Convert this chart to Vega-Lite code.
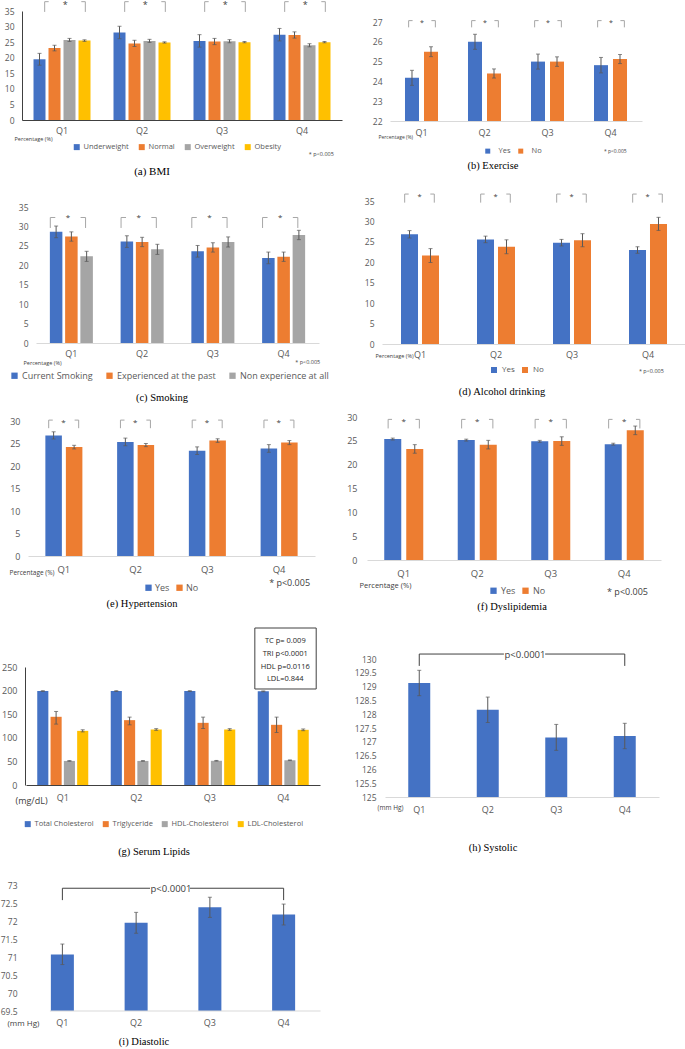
{
  "$schema": "https://vega.github.io/schema/vega-lite/v6.json",
  "padding": 0,
  "columns": 2,
  "spacing": {"row": 70, "column": 23},
  "bounds": "flush",
  "align": "each",
  "resolve": {"scale": {"x": "independent", "y": "independent", "color": "independent", "xOffset": "independent"}, "legend": {"color": "independent"}},
  "config": {
    "view": {"stroke": null},
    "font": "Open Sans",
    "axis": {"grid": false, "ticks": false, "tickSize": 0, "labelOverlap": false, "labelColor": "#595959", "labelFont": "Open Sans", "domainColor": "#d9d9d9", "titleColor": "#404040", "titleFont": "Open Sans", "titleFontWeight": "normal", "labelFontSize": 8.5},
    "axisX": {"labelAngle": 0, "titleAlign": "left", "titleBaseline": "middle"},
    "axisY": {"title": null, "domain": false, "labelOverlap": false, "tickCount": 20},
    "legend": {"labelFont": "Open Sans", "labelColor": "#595959", "symbolType": "square", "symbolStrokeWidth": 0, "orient": "none", "direction": "horizontal"},
    "title": {"font": "Liberation Serif", "fontWeight": "normal", "color": "#000000", "fontSize": 10.5, "orient": "bottom", "frame": "group", "anchor": "middle"},
    "text": {"font": "Open Sans"}
  },
  "datasets": {
    "quarters": [{"q": "Q1"}, {"q": "Q2"}, {"q": "Q3"}, {"q": "Q4"}],
    "bmi": [
      {"q": "Q1", "s": "Underweight", "v": 19.5, "lo": 17.6, "hi": 21.4},
      {"q": "Q1", "s": "Normal", "v": 23.1, "lo": 22.2, "hi": 24.0},
      {"q": "Q1", "s": "Overweight", "v": 25.7, "lo": 25.2, "hi": 26.2},
      {"q": "Q1", "s": "Obesity", "v": 25.5, "lo": 25.25, "hi": 25.75},
      {"q": "Q2", "s": "Underweight", "v": 28.1, "lo": 26.1, "hi": 30.1},
      {"q": "Q2", "s": "Normal", "v": 24.6, "lo": 23.6, "hi": 25.6},
      {"q": "Q2", "s": "Overweight", "v": 25.4, "lo": 24.9, "hi": 25.9},
      {"q": "Q2", "s": "Obesity", "v": 24.9, "lo": 24.7, "hi": 25.1},
      {"q": "Q3", "s": "Underweight", "v": 25.4, "lo": 23.4, "hi": 27.4},
      {"q": "Q3", "s": "Normal", "v": 25.2, "lo": 24.2, "hi": 26.2},
      {"q": "Q3", "s": "Overweight", "v": 25.3, "lo": 24.8, "hi": 25.8},
      {"q": "Q3", "s": "Obesity", "v": 25.0, "lo": 24.8, "hi": 25.2},
      {"q": "Q4", "s": "Underweight", "v": 27.4, "lo": 25.4, "hi": 29.4},
      {"q": "Q4", "s": "Normal", "v": 27.3, "lo": 26.3, "hi": 28.3},
      {"q": "Q4", "s": "Overweight", "v": 24.0, "lo": 23.5, "hi": 24.5},
      {"q": "Q4", "s": "Obesity", "v": 25.0, "lo": 24.8, "hi": 25.2}
    ],
    "exercise": [
      {"q": "Q1", "s": "Yes", "v": 24.18, "lo": 23.8, "hi": 24.56},
      {"q": "Q1", "s": "No", "v": 25.5, "lo": 25.25, "hi": 25.75},
      {"q": "Q2", "s": "Yes", "v": 26.0, "lo": 25.62, "hi": 26.38},
      {"q": "Q2", "s": "No", "v": 24.4, "lo": 24.17, "hi": 24.63},
      {"q": "Q3", "s": "Yes", "v": 25.0, "lo": 24.62, "hi": 25.38},
      {"q": "Q3", "s": "No", "v": 25.0, "lo": 24.76, "hi": 25.24},
      {"q": "Q4", "s": "Yes", "v": 24.82, "lo": 24.43, "hi": 25.21},
      {"q": "Q4", "s": "No", "v": 25.13, "lo": 24.9, "hi": 25.36}
    ],
    "smoking": [
      {"q": "Q1", "s": "Current Smoking", "v": 28.6, "lo": 27.1, "hi": 30.1},
      {"q": "Q1", "s": "Experienced at the past", "v": 27.4, "lo": 26.2, "hi": 28.6},
      {"q": "Q1", "s": "Non experience at all", "v": 22.3, "lo": 21.0, "hi": 23.6},
      {"q": "Q2", "s": "Current Smoking", "v": 26.1, "lo": 24.6, "hi": 27.6},
      {"q": "Q2", "s": "Experienced at the past", "v": 26.0, "lo": 24.8, "hi": 27.2},
      {"q": "Q2", "s": "Non experience at all", "v": 24.1, "lo": 22.8, "hi": 25.4},
      {"q": "Q3", "s": "Current Smoking", "v": 23.6, "lo": 22.1, "hi": 25.1},
      {"q": "Q3", "s": "Experienced at the past", "v": 24.6, "lo": 23.4, "hi": 25.8},
      {"q": "Q3", "s": "Non experience at all", "v": 26.0, "lo": 24.7, "hi": 27.3},
      {"q": "Q4", "s": "Current Smoking", "v": 21.9, "lo": 20.4, "hi": 23.4},
      {"q": "Q4", "s": "Experienced at the past", "v": 22.2, "lo": 21.0, "hi": 23.4},
      {"q": "Q4", "s": "Non experience at all", "v": 27.8, "lo": 26.6, "hi": 29.0}
    ],
    "alcohol": [
      {"q": "Q1", "s": "Yes", "v": 26.85, "lo": 25.95, "hi": 27.75},
      {"q": "Q1", "s": "No", "v": 21.65, "lo": 19.95, "hi": 23.35},
      {"q": "Q2", "s": "Yes", "v": 25.6, "lo": 24.8, "hi": 26.4},
      {"q": "Q2", "s": "No", "v": 23.8, "lo": 22.1, "hi": 25.5},
      {"q": "Q3", "s": "Yes", "v": 24.8, "lo": 24.0, "hi": 25.6},
      {"q": "Q3", "s": "No", "v": 25.4, "lo": 23.8, "hi": 27.0},
      {"q": "Q4", "s": "Yes", "v": 23.0, "lo": 22.2, "hi": 23.8},
      {"q": "Q4", "s": "No", "v": 29.4, "lo": 27.8, "hi": 31.0}
    ],
    "hypertension": [
      {"q": "Q1", "s": "Yes", "v": 26.8, "lo": 26.0, "hi": 27.6},
      {"q": "Q1", "s": "No", "v": 24.2, "lo": 23.8, "hi": 24.6},
      {"q": "Q2", "s": "Yes", "v": 25.35, "lo": 24.5, "hi": 26.2},
      {"q": "Q2", "s": "No", "v": 24.65, "lo": 24.3, "hi": 25.0},
      {"q": "Q3", "s": "Yes", "v": 23.4, "lo": 22.55, "hi": 24.25},
      {"q": "Q3", "s": "No", "v": 25.65, "lo": 25.25, "hi": 26.05},
      {"q": "Q4", "s": "Yes", "v": 23.9, "lo": 23.05, "hi": 24.75},
      {"q": "Q4", "s": "No", "v": 25.2, "lo": 24.75, "hi": 25.65}
    ],
    "dyslipidemia": [
      {"q": "Q1", "s": "Yes", "v": 25.37, "lo": 25.17, "hi": 25.57},
      {"q": "Q1", "s": "No", "v": 23.3, "lo": 22.4, "hi": 24.2},
      {"q": "Q2", "s": "Yes", "v": 25.15, "lo": 24.95, "hi": 25.35},
      {"q": "Q2", "s": "No", "v": 24.2, "lo": 23.3, "hi": 25.1},
      {"q": "Q3", "s": "Yes", "v": 24.9, "lo": 24.7, "hi": 25.1},
      {"q": "Q3", "s": "No", "v": 24.95, "lo": 24.05, "hi": 25.85},
      {"q": "Q4", "s": "Yes", "v": 24.3, "lo": 24.1, "hi": 24.5},
      {"q": "Q4", "s": "No", "v": 27.2, "lo": 26.3, "hi": 28.1}
    ],
    "lipids": [
      {"q": "Q1", "s": "Total Cholesterol", "v": 199, "lo": 198.2, "hi": 199.8},
      {"q": "Q1", "s": "Triglyceride", "v": 144.5, "lo": 129, "hi": 155.8},
      {"q": "Q1", "s": "HDL-Cholesterol", "v": 51, "lo": 50.3, "hi": 51.7},
      {"q": "Q1", "s": "LDL-Cholesterol", "v": 114.7, "lo": 112.5, "hi": 117},
      {"q": "Q2", "s": "Total Cholesterol", "v": 199, "lo": 198.2, "hi": 199.8},
      {"q": "Q2", "s": "Triglyceride", "v": 137.4, "lo": 127.5, "hi": 143.8},
      {"q": "Q2", "s": "HDL-Cholesterol", "v": 51, "lo": 50.3, "hi": 51.7},
      {"q": "Q2", "s": "LDL-Cholesterol", "v": 117.6, "lo": 115.8, "hi": 119.4},
      {"q": "Q3", "s": "Total Cholesterol", "v": 199, "lo": 198.2, "hi": 199.8},
      {"q": "Q3", "s": "Triglyceride", "v": 131.7, "lo": 119.7, "hi": 143.8},
      {"q": "Q3", "s": "HDL-Cholesterol", "v": 51.3, "lo": 50.6, "hi": 52},
      {"q": "Q3", "s": "LDL-Cholesterol", "v": 117.6, "lo": 115.8, "hi": 119.4},
      {"q": "Q4", "s": "Total Cholesterol", "v": 198.5, "lo": 197.7, "hi": 199.3},
      {"q": "Q4", "s": "Triglyceride", "v": 127.5, "lo": 111.2, "hi": 143.8},
      {"q": "Q4", "s": "HDL-Cholesterol", "v": 52.4, "lo": 51.7, "hi": 53.1},
      {"q": "Q4", "s": "LDL-Cholesterol", "v": 116.9, "lo": 115.1, "hi": 118.7}
    ],
    "systolic": [
      {"q": "Q1", "v": 129.13, "lo": 128.67, "hi": 129.59},
      {"q": "Q2", "v": 128.16, "lo": 127.7, "hi": 128.62},
      {"q": "Q3", "v": 127.16, "lo": 126.69, "hi": 127.63},
      {"q": "Q4", "v": 127.21, "lo": 126.75, "hi": 127.67}
    ],
    "diastolic": [
      {"q": "Q1", "v": 71.07, "lo": 70.79, "hi": 71.36},
      {"q": "Q2", "v": 71.95, "lo": 71.66, "hi": 72.24},
      {"q": "Q3", "v": 72.38, "lo": 72.1, "hi": 72.66},
      {"q": "Q4", "v": 72.18, "lo": 71.89, "hi": 72.47}
    ]
  },
  "concat": [
    {
      "width": 320, "height": 115,
      "data": {"name": "bmi"},
      "title": {"text": "(a) BMI", "dx": -30, "offset": 9, "fontSize": 11},
      "layer": [
        {"mark": {"type": "bar"},
         "encoding": {
           "x": {"field": "q", "type": "nominal", "scale": {"range": [0, 320], "paddingInner": 0.2875, "paddingOuter": 0.14375},
                 "axis": {"title": "Percentage (%)", "titleX": -8, "titleY": 18, "titleFontSize": 5.5, "labelPadding": 6, "labelFontSize": 9, "domainColor": "#404040"}},
           "xOffset": {"field": "s", "type": "nominal", "sort": ["Underweight", "Normal", "Overweight", "Obesity"], "scale": {"domain": ["Underweight", "Normal", "Overweight", "Obesity"], "paddingInner": 0.2, "paddingOuter": 0}},
           "y": {"field": "v", "type": "quantitative", "scale": {"domain": [0, 35], "range": [115, 6], "nice": false},
                 "axis": {"values": [0, 5, 10, 15, 20, 25, 30, 35], "tickCount": 20, "labelOverlap": false, "labelPadding": 8, "domain": true, "domainColor": "#404040", "format": "d"}},
           "y2": {"datum": 0},
           "color": {"field": "s", "type": "nominal", "scale": {"domain": ["Underweight", "Normal", "Overweight", "Obesity"], "range": ["#4472C4", "#ED7D31", "#A5A5A5", "#FFC000"]},
                     "legend": {"title": null, "legendX": 51, "legendY": 138, "labelFontSize": 7.5, "symbolSize": 36, "labelOffset": 3, "columnPadding": 9}}
         }},
        {"mark": {"type": "rule", "color": "#595959"},
         "encoding": {"x": {"field": "q", "type": "nominal"}, "xOffset": {"field": "s", "type": "nominal", "sort": ["Underweight", "Normal", "Overweight", "Obesity"]}, "y": {"field": "lo", "type": "quantitative"}, "y2": {"field": "hi"}}},
        {"mark": {"type": "tick", "color": "#595959", "size": 4, "thickness": 1, "orient": "horizontal"},
         "encoding": {"x": {"field": "q", "type": "nominal"}, "xOffset": {"field": "s", "type": "nominal", "sort": ["Underweight", "Normal", "Overweight", "Obesity"]}, "y": {"field": "lo", "type": "quantitative"}}},
        {"mark": {"type": "tick", "color": "#595959", "size": 4, "thickness": 1, "orient": "horizontal"},
         "encoding": {"x": {"field": "q", "type": "nominal"}, "xOffset": {"field": "s", "type": "nominal", "sort": ["Underweight", "Normal", "Overweight", "Obesity"]}, "y": {"field": "hi", "type": "quantitative"}}},
        {"data": {"name": "quarters"}, "mark": {"type": "rule", "color": "#A6A6A6"},
         "encoding": {"x": {"field": "q", "type": "nominal", "bandPosition": 0.196}, "y": {"datum": 34.7}, "y2": {"datum": 38.0}}},
        {"data": {"name": "quarters"}, "mark": {"type": "rule", "color": "#A6A6A6"},
         "encoding": {"x": {"field": "q", "type": "nominal", "bandPosition": 0.909}, "y": {"datum": 34.7}, "y2": {"datum": 38.0}}},
        {"data": {"name": "quarters"}, "mark": {"type": "rule", "color": "#A6A6A6"},
         "encoding": {"x": {"field": "q", "type": "nominal", "bandPosition": 0.196}, "x2": {"field": "q", "bandPosition": 0.266}, "y": {"datum": 38.0}}},
        {"data": {"name": "quarters"}, "mark": {"type": "rule", "color": "#A6A6A6"},
         "encoding": {"x": {"field": "q", "type": "nominal", "bandPosition": 0.839}, "x2": {"field": "q", "bandPosition": 0.909}, "y": {"datum": 38.0}}},
        {"data": {"name": "quarters"}, "mark": {"type": "text", "text": "*", "fontSize": 9, "color": "#404040", "align": "center", "baseline": "alphabetic"},
         "encoding": {"x": {"field": "q", "type": "nominal", "bandPosition": 0.558}, "y": {"datum": 36.0}}},
        {"data": {"name": "quarters"}, "transform": [{"filter": "datum.q === 'Q4'"}], "mark": {"type": "text", "text": "* p<0.005", "fontSize": 5.5, "color": "#404040", "align": "left", "baseline": "middle"},
         "encoding": {"x": {"field": "q", "type": "nominal", "bandPosition": 0.62}, "y": {"datum": -10.9}}}
      ]
    },
    {
      "width": 277, "height": 116,
      "data": {"name": "exercise"},
      "title": {"text": "(b) Exercise", "dx": -10.5, "offset": 6},
      "layer": [
        {"mark": {"type": "bar"},
         "encoding": {
           "x": {"field": "q", "type": "nominal", "scale": {"range": [25, 277], "paddingInner": 0.476, "paddingOuter": 0.238},
                 "axis": {"title": "Percentage (%)", "titleX": 13, "titleY": 15, "titleFontSize": 5, "labelPadding": 7, "labelFontSize": 9}},
           "xOffset": {"field": "s", "type": "nominal", "sort": ["Yes", "No"], "scale": {"domain": ["Yes", "No"], "paddingInner": 0.263, "paddingOuter": 0}},
           "y": {"field": "v", "type": "quantitative", "scale": {"domain": [22, 27], "range": [116, 17], "nice": false, "zero": false},
                 "axis": {"values": [22, 23, 24, 25, 26, 27], "tickCount": 20, "labelOverlap": false, "labelPadding": -17, "format": "d"}},
           "y2": {"datum": 22},
           "color": {"field": "s", "type": "nominal", "scale": {"domain": ["Yes", "No"], "range": ["#4472C4", "#ED7D31"]},
                     "legend": {"title": null, "legendX": 119, "legendY": 142, "labelFontSize": 7.5, "symbolSize": 25, "labelOffset": 7, "columnPadding": 6}}
         }},
        {"mark": {"type": "rule", "color": "#595959"},
         "encoding": {"x": {"field": "q", "type": "nominal"}, "xOffset": {"field": "s", "type": "nominal", "sort": ["Yes", "No"]}, "y": {"field": "lo", "type": "quantitative"}, "y2": {"field": "hi"}}},
        {"mark": {"type": "tick", "color": "#595959", "size": 4, "thickness": 1, "orient": "horizontal"},
         "encoding": {"x": {"field": "q", "type": "nominal"}, "xOffset": {"field": "s", "type": "nominal", "sort": ["Yes", "No"]}, "y": {"field": "lo", "type": "quantitative"}}},
        {"mark": {"type": "tick", "color": "#595959", "size": 4, "thickness": 1, "orient": "horizontal"},
         "encoding": {"x": {"field": "q", "type": "nominal"}, "xOffset": {"field": "s", "type": "nominal", "sort": ["Yes", "No"]}, "y": {"field": "hi", "type": "quantitative"}}},
        {"data": {"name": "quarters"}, "mark": {"type": "rule", "color": "#A6A6A6"},
         "encoding": {"x": {"field": "q", "type": "nominal", "bandPosition": 0.11}, "y": {"datum": 26.73}, "y2": {"datum": 27.07}}},
        {"data": {"name": "quarters"}, "mark": {"type": "rule", "color": "#A6A6A6"},
         "encoding": {"x": {"field": "q", "type": "nominal", "bandPosition": 0.92}, "y": {"datum": 26.73}, "y2": {"datum": 27.07}}},
        {"data": {"name": "quarters"}, "mark": {"type": "rule", "color": "#A6A6A6"},
         "encoding": {"x": {"field": "q", "type": "nominal", "bandPosition": 0.11}, "x2": {"field": "q", "bandPosition": 0.23}, "y": {"datum": 27.07}}},
        {"data": {"name": "quarters"}, "mark": {"type": "rule", "color": "#A6A6A6"},
         "encoding": {"x": {"field": "q", "type": "nominal", "bandPosition": 0.8}, "x2": {"field": "q", "bandPosition": 0.92}, "y": {"datum": 27.07}}},
        {"data": {"name": "quarters"}, "mark": {"type": "text", "text": "*", "fontSize": 7, "color": "#404040", "align": "center", "baseline": "alphabetic"},
         "encoding": {"x": {"field": "q", "type": "nominal", "bandPosition": 0.515}, "y": {"datum": 26.86}}},
        {"data": {"name": "quarters"}, "transform": [{"filter": "datum.q === 'Q4'"}], "mark": {"type": "text", "text": "* p<0.005", "fontSize": 5, "color": "#404040", "align": "left", "baseline": "middle"},
         "encoding": {"x": {"field": "q", "type": "nominal", "bandPosition": 0.3}, "y": {"datum": 20.48}}}
      ]
    },
    {
      "width": 298, "height": 152,
      "data": {"name": "smoking"},
      "title": {"text": "(c) Smoking", "dx": -9, "offset": 12},
      "layer": [
        {"mark": {"type": "bar"},
         "encoding": {
           "x": {"field": "q", "type": "nominal", "scale": {"range": [14, 297], "paddingInner": 0.392, "paddingOuter": 0.196},
                 "axis": {"title": "Percentage (%)", "titleX": 1, "titleY": 19, "titleFontSize": 5.5, "labelPadding": 6, "labelFontSize": 9}},
           "xOffset": {"field": "s", "type": "nominal", "sort": ["Current Smoking", "Experienced at the past", "Non experience at all"], "scale": {"domain": ["Current Smoking", "Experienced at the past", "Non experience at all"], "paddingInner": 0.18, "paddingOuter": 0}},
           "y": {"field": "v", "type": "quantitative", "scale": {"domain": [0, 35], "range": [152, 16], "nice": false},
                 "axis": {"values": [0, 5, 10, 15, 20, 25, 30, 35], "tickCount": 20, "labelOverlap": false, "labelPadding": -6, "format": "d"}},
           "y2": {"datum": 0},
           "color": {"field": "s", "type": "nominal", "scale": {"domain": ["Current Smoking", "Experienced at the past", "Non experience at all"], "range": ["#4472C4", "#ED7D31", "#A5A5A5"]},
                     "legend": {"title": null, "legendX": -12, "legendY": 180, "labelFontSize": 9, "symbolSize": 40, "labelOffset": 3, "columnPadding": 12}}
         }},
        {"mark": {"type": "rule", "color": "#595959"},
         "encoding": {"x": {"field": "q", "type": "nominal"}, "xOffset": {"field": "s", "type": "nominal", "sort": ["Current Smoking", "Experienced at the past", "Non experience at all"]}, "y": {"field": "lo", "type": "quantitative"}, "y2": {"field": "hi"}}},
        {"mark": {"type": "tick", "color": "#595959", "size": 4, "thickness": 1, "orient": "horizontal"},
         "encoding": {"x": {"field": "q", "type": "nominal"}, "xOffset": {"field": "s", "type": "nominal", "sort": ["Current Smoking", "Experienced at the past", "Non experience at all"]}, "y": {"field": "lo", "type": "quantitative"}}},
        {"mark": {"type": "tick", "color": "#595959", "size": 4, "thickness": 1, "orient": "horizontal"},
         "encoding": {"x": {"field": "q", "type": "nominal"}, "xOffset": {"field": "s", "type": "nominal", "sort": ["Current Smoking", "Experienced at the past", "Non experience at all"]}, "y": {"field": "hi", "type": "quantitative"}}},
        {"data": {"name": "quarters"}, "mark": {"type": "rule", "color": "#A6A6A6"},
         "encoding": {"x": {"field": "q", "type": "nominal", "bandPosition": 0.01}, "y": {"datum": 29.6}, "y2": {"datum": 32.3}}},
        {"data": {"name": "quarters"}, "mark": {"type": "rule", "color": "#A6A6A6"},
         "encoding": {"x": {"field": "q", "type": "nominal", "bandPosition": 0.83}, "y": {"datum": 29.6}, "y2": {"datum": 32.3}}},
        {"data": {"name": "quarters"}, "mark": {"type": "rule", "color": "#A6A6A6"},
         "encoding": {"x": {"field": "q", "type": "nominal", "bandPosition": 0.01}, "x2": {"field": "q", "bandPosition": 0.126}, "y": {"datum": 32.3}}},
        {"data": {"name": "quarters"}, "mark": {"type": "rule", "color": "#A6A6A6"},
         "encoding": {"x": {"field": "q", "type": "nominal", "bandPosition": 0.714}, "x2": {"field": "q", "bandPosition": 0.83}, "y": {"datum": 32.3}}},
        {"data": {"name": "quarters"}, "mark": {"type": "text", "text": "*", "fontSize": 8, "color": "#404040", "align": "center", "baseline": "alphabetic"},
         "encoding": {"x": {"field": "q", "type": "nominal", "bandPosition": 0.42}, "y": {"datum": 31.65}}},
        {"data": {"name": "quarters"}, "transform": [{"filter": "datum.q === 'Q4'"}], "mark": {"type": "text", "text": "* p<0.005", "fontSize": 5.5, "color": "#404040", "align": "left", "baseline": "middle"},
         "encoding": {"x": {"field": "q", "type": "nominal", "bandPosition": 0.77}, "y": {"datum": -4.9}}}
      ]
    },
    {
      "width": 321, "height": 153,
      "data": {"name": "alcohol"},
      "title": {"text": "(d) Alcohol drinking", "dx": -23.5, "offset": 13},
      "layer": [
        {"mark": {"type": "bar"},
         "encoding": {
           "x": {"field": "q", "type": "nominal", "scale": {"range": [17, 321], "paddingInner": 0.5, "paddingOuter": 0.25},
                 "axis": {"title": "Percentage (%)", "titleX": 10, "titleY": 11, "titleFontSize": 5.5, "labelPadding": 6, "labelFontSize": 9}},
           "xOffset": {"field": "s", "type": "nominal", "sort": ["Yes", "No"], "scale": {"domain": ["Yes", "No"], "paddingInner": 0.19, "paddingOuter": 0}},
           "y": {"field": "v", "type": "quantitative", "scale": {"domain": [0, 35], "range": [153, 10], "nice": false},
                 "axis": {"values": [0, 5, 10, 15, 20, 25, 30, 35], "tickCount": 20, "labelOverlap": false, "labelPadding": -9, "format": "d"}},
           "y2": {"datum": 0},
           "color": {"field": "s", "type": "nominal", "scale": {"domain": ["Yes", "No"], "range": ["#4472C4", "#ED7D31"]},
                     "legend": {"title": null, "legendX": 125, "legendY": 175, "labelFontSize": 8, "symbolSize": 36, "labelOffset": 4, "columnPadding": 6}}
         }},
        {"mark": {"type": "rule", "color": "#595959"},
         "encoding": {"x": {"field": "q", "type": "nominal"}, "xOffset": {"field": "s", "type": "nominal", "sort": ["Yes", "No"]}, "y": {"field": "lo", "type": "quantitative"}, "y2": {"field": "hi"}}},
        {"mark": {"type": "tick", "color": "#595959", "size": 4, "thickness": 1, "orient": "horizontal"},
         "encoding": {"x": {"field": "q", "type": "nominal"}, "xOffset": {"field": "s", "type": "nominal", "sort": ["Yes", "No"]}, "y": {"field": "lo", "type": "quantitative"}}},
        {"mark": {"type": "tick", "color": "#595959", "size": 4, "thickness": 1, "orient": "horizontal"},
         "encoding": {"x": {"field": "q", "type": "nominal"}, "xOffset": {"field": "s", "type": "nominal", "sort": ["Yes", "No"]}, "y": {"field": "hi", "type": "quantitative"}}},
        {"data": {"name": "quarters"}, "mark": {"type": "rule", "color": "#A6A6A6"},
         "encoding": {"x": {"field": "q", "type": "nominal", "bandPosition": 0.097}, "y": {"datum": 34.6}, "y2": {"datum": 36.7}}},
        {"data": {"name": "quarters"}, "mark": {"type": "rule", "color": "#A6A6A6"},
         "encoding": {"x": {"field": "q", "type": "nominal", "bandPosition": 0.876}, "y": {"datum": 34.6}, "y2": {"datum": 36.7}}},
        {"data": {"name": "quarters"}, "mark": {"type": "rule", "color": "#A6A6A6"},
         "encoding": {"x": {"field": "q", "type": "nominal", "bandPosition": 0.097}, "x2": {"field": "q", "bandPosition": 0.202}, "y": {"datum": 36.7}}},
        {"data": {"name": "quarters"}, "mark": {"type": "rule", "color": "#A6A6A6"},
         "encoding": {"x": {"field": "q", "type": "nominal", "bandPosition": 0.771}, "x2": {"field": "q", "bandPosition": 0.876}, "y": {"datum": 36.7}}},
        {"data": {"name": "quarters"}, "mark": {"type": "text", "text": "*", "fontSize": 7.5, "color": "#404040", "align": "center", "baseline": "alphabetic"},
         "encoding": {"x": {"field": "q", "type": "nominal", "bandPosition": 0.49}, "y": {"datum": 35.5}}},
        {"data": {"name": "quarters"}, "transform": [{"filter": "datum.q === 'Q4'"}], "mark": {"type": "text", "text": "* p<0.005", "fontSize": 5.5, "color": "#404040", "align": "left", "baseline": "middle"},
         "encoding": {"x": {"field": "q", "type": "nominal", "bandPosition": 0.26}, "y": {"datum": -6.6}}}
      ]
    },
    {
      "width": 293, "height": 142,
      "data": {"name": "hypertension"},
      "title": {"text": "(e) Hypertension", "dx": -26.5, "offset": 6},
      "layer": [
        {"mark": {"type": "bar"},
         "encoding": {
           "x": {"field": "q", "type": "nominal", "scale": {"range": [6, 293], "paddingInner": 0.484, "paddingOuter": 0.242},
                 "axis": {"title": "Percentage (%)", "titleX": -13, "titleY": 16, "titleFontSize": 6.5, "labelPadding": 8, "labelFontSize": 9.5}},
           "xOffset": {"field": "s", "type": "nominal", "sort": ["Yes", "No"], "scale": {"domain": ["Yes", "No"], "paddingInner": 0.195, "paddingOuter": 0}},
           "y": {"field": "v", "type": "quantitative", "scale": {"domain": [0, 30], "range": [142, 7], "nice": false},
                 "axis": {"values": [0, 5, 10, 15, 20, 25, 30], "tickCount": 20, "labelOverlap": false, "labelPadding": 2, "labelFontSize": 9, "format": "d"}},
           "y2": {"datum": 0},
           "color": {"field": "s", "type": "nominal", "scale": {"domain": ["Yes", "No"], "range": ["#4472C4", "#ED7D31"]},
                     "legend": {"title": null, "legendX": 122, "legendY": 169, "labelFontSize": 9, "symbolSize": 40, "labelOffset": 2, "columnPadding": 5}}
         }},
        {"mark": {"type": "rule", "color": "#595959"},
         "encoding": {"x": {"field": "q", "type": "nominal"}, "xOffset": {"field": "s", "type": "nominal", "sort": ["Yes", "No"]}, "y": {"field": "lo", "type": "quantitative"}, "y2": {"field": "hi"}}},
        {"mark": {"type": "tick", "color": "#595959", "size": 4, "thickness": 1, "orient": "horizontal"},
         "encoding": {"x": {"field": "q", "type": "nominal"}, "xOffset": {"field": "s", "type": "nominal", "sort": ["Yes", "No"]}, "y": {"field": "lo", "type": "quantitative"}}},
        {"mark": {"type": "tick", "color": "#595959", "size": 4, "thickness": 1, "orient": "horizontal"},
         "encoding": {"x": {"field": "q", "type": "nominal"}, "xOffset": {"field": "s", "type": "nominal", "sort": ["Yes", "No"]}, "y": {"field": "hi", "type": "quantitative"}}},
        {"data": {"name": "quarters"}, "mark": {"type": "rule", "color": "#A6A6A6"},
         "encoding": {"x": {"field": "q", "type": "nominal", "bandPosition": 0.09}, "y": {"datum": 28.4}, "y2": {"datum": 30.2}}},
        {"data": {"name": "quarters"}, "mark": {"type": "rule", "color": "#A6A6A6"},
         "encoding": {"x": {"field": "q", "type": "nominal", "bandPosition": 0.9}, "y": {"datum": 28.4}, "y2": {"datum": 30.2}}},
        {"data": {"name": "quarters"}, "mark": {"type": "rule", "color": "#A6A6A6"},
         "encoding": {"x": {"field": "q", "type": "nominal", "bandPosition": 0.09}, "x2": {"field": "q", "bandPosition": 0.2}, "y": {"datum": 30.2}}},
        {"data": {"name": "quarters"}, "mark": {"type": "rule", "color": "#A6A6A6"},
         "encoding": {"x": {"field": "q", "type": "nominal", "bandPosition": 0.79}, "x2": {"field": "q", "bandPosition": 0.9}, "y": {"datum": 30.2}}},
        {"data": {"name": "quarters"}, "mark": {"type": "text", "text": "*", "fontSize": 8, "color": "#404040", "align": "center", "baseline": "alphabetic"},
         "encoding": {"x": {"field": "q", "type": "nominal", "bandPosition": 0.49}, "y": {"datum": 29.2}}},
        {"data": {"name": "quarters"}, "transform": [{"filter": "datum.q === 'Q4'"}], "mark": {"type": "text", "text": "* p<0.005", "fontSize": 9, "color": "#404040", "align": "left", "baseline": "middle"},
         "encoding": {"x": {"field": "q", "type": "nominal", "bandPosition": 0.23}, "y": {"datum": -6.0}}}
      ]
    },
    {
      "width": 296, "height": 146,
      "data": {"name": "dyslipidemia"},
      "title": {"text": "(f) Dyslipidemia", "dx": -1, "offset": 5},
      "layer": [
        {"mark": {"type": "bar"},
         "encoding": {
           "x": {"field": "q", "type": "nominal", "scale": {"range": [2, 296], "paddingInner": 0.469, "paddingOuter": 0.2345},
                 "axis": {"title": "Percentage (%)", "titleX": -6, "titleY": 25, "titleFontSize": 7.5, "labelPadding": 8, "labelFontSize": 9.5}},
           "xOffset": {"field": "s", "type": "nominal", "sort": ["Yes", "No"], "scale": {"domain": ["Yes", "No"], "paddingInner": 0.227, "paddingOuter": 0}},
           "y": {"field": "v", "type": "quantitative", "scale": {"domain": [0, 30], "range": [146, 3], "nice": false},
                 "axis": {"values": [0, 5, 10, 15, 20, 25, 30], "tickCount": 20, "labelOverlap": false, "labelPadding": 8, "labelFontSize": 9, "format": "d"}},
           "y2": {"datum": 0},
           "color": {"field": "s", "type": "nominal", "scale": {"domain": ["Yes", "No"], "range": ["#4472C4", "#ED7D31"]},
                     "legend": {"title": null, "legendX": 124, "legendY": 172, "labelFontSize": 9, "symbolSize": 40, "labelOffset": 3, "columnPadding": 5}}
         }},
        {"mark": {"type": "rule", "color": "#595959"},
         "encoding": {"x": {"field": "q", "type": "nominal"}, "xOffset": {"field": "s", "type": "nominal", "sort": ["Yes", "No"]}, "y": {"field": "lo", "type": "quantitative"}, "y2": {"field": "hi"}}},
        {"mark": {"type": "tick", "color": "#595959", "size": 4, "thickness": 1, "orient": "horizontal"},
         "encoding": {"x": {"field": "q", "type": "nominal"}, "xOffset": {"field": "s", "type": "nominal", "sort": ["Yes", "No"]}, "y": {"field": "lo", "type": "quantitative"}}},
        {"mark": {"type": "tick", "color": "#595959", "size": 4, "thickness": 1, "orient": "horizontal"},
         "encoding": {"x": {"field": "q", "type": "nominal"}, "xOffset": {"field": "s", "type": "nominal", "sort": ["Yes", "No"]}, "y": {"field": "hi", "type": "quantitative"}}},
        {"data": {"name": "quarters"}, "mark": {"type": "rule", "color": "#A6A6A6"},
         "encoding": {"x": {"field": "q", "type": "nominal", "bandPosition": 0.1}, "y": {"datum": 27.6}, "y2": {"datum": 29.5}}},
        {"data": {"name": "quarters"}, "mark": {"type": "rule", "color": "#A6A6A6"},
         "encoding": {"x": {"field": "q", "type": "nominal", "bandPosition": 0.9}, "y": {"datum": 27.6}, "y2": {"datum": 29.5}}},
        {"data": {"name": "quarters"}, "mark": {"type": "rule", "color": "#A6A6A6"},
         "encoding": {"x": {"field": "q", "type": "nominal", "bandPosition": 0.1}, "x2": {"field": "q", "bandPosition": 0.2}, "y": {"datum": 29.5}}},
        {"data": {"name": "quarters"}, "mark": {"type": "rule", "color": "#A6A6A6"},
         "encoding": {"x": {"field": "q", "type": "nominal", "bandPosition": 0.8}, "x2": {"field": "q", "bandPosition": 0.9}, "y": {"datum": 29.5}}},
        {"data": {"name": "quarters"}, "mark": {"type": "text", "text": "*", "fontSize": 8, "color": "#404040", "align": "center", "baseline": "alphabetic"},
         "encoding": {"x": {"field": "q", "type": "nominal", "bandPosition": 0.5}, "y": {"datum": 28.5}}},
        {"data": {"name": "quarters"}, "transform": [{"filter": "datum.q === 'Q4'"}], "mark": {"type": "text", "text": "* p<0.005", "fontSize": 9, "color": "#404040", "align": "left", "baseline": "middle"},
         "encoding": {"x": {"field": "q", "type": "nominal", "bandPosition": 0.06}, "y": {"datum": -6.7}}}
      ]
    },
    {
      "width": 298, "height": 155,
      "data": {"name": "lipids"},
      "title": {"text": "(g) Serum Lipids", "dx": -17, "offset": 19},
      "layer": [
        {"mark": {"type": "bar"},
         "encoding": {
           "x": {"field": "q", "type": "nominal", "scale": {"range": [4, 298], "paddingInner": 0.306, "paddingOuter": 0.153},
                 "axis": {"title": "(mg/dL)", "titleX": -7, "titleY": 15, "titleFontSize": 9, "labelPadding": 8, "labelFontSize": 9, "domainColor": "#404040"}},
           "xOffset": {"field": "s", "type": "nominal", "sort": ["Total Cholesterol", "Triglyceride", "HDL-Cholesterol", "LDL-Cholesterol"], "scale": {"domain": ["Total Cholesterol", "Triglyceride", "HDL-Cholesterol", "LDL-Cholesterol"], "paddingInner": 0.165, "paddingOuter": 0}},
           "y": {"field": "v", "type": "quantitative", "scale": {"domain": [0, 250], "range": [155, 37], "nice": false},
                 "axis": {"values": [0, 50, 100, 150, 200, 250], "tickCount": 20, "labelOverlap": false, "offset": -3, "labelPadding": 8, "labelFontSize": 9, "domain": true, "domainColor": "#404040", "format": "d"}},
           "y2": {"datum": 0},
           "color": {"field": "s", "type": "nominal", "scale": {"domain": ["Total Cholesterol", "Triglyceride", "HDL-Cholesterol", "LDL-Cholesterol"], "range": ["#4472C4", "#ED7D31", "#A5A5A5", "#FFC000"]},
                     "legend": {"title": null, "legendX": 2, "legendY": 190, "labelFontSize": 7.5, "symbolSize": 36, "labelOffset": 3, "columnPadding": 8}}
         }},
        {"mark": {"type": "rule", "color": "#595959"},
         "encoding": {"x": {"field": "q", "type": "nominal"}, "xOffset": {"field": "s", "type": "nominal", "sort": ["Total Cholesterol", "Triglyceride", "HDL-Cholesterol", "LDL-Cholesterol"]}, "y": {"field": "lo", "type": "quantitative"}, "y2": {"field": "hi"}}},
        {"mark": {"type": "tick", "color": "#595959", "size": 4, "thickness": 1, "orient": "horizontal"},
         "encoding": {"x": {"field": "q", "type": "nominal"}, "xOffset": {"field": "s", "type": "nominal", "sort": ["Total Cholesterol", "Triglyceride", "HDL-Cholesterol", "LDL-Cholesterol"]}, "y": {"field": "lo", "type": "quantitative"}}},
        {"mark": {"type": "tick", "color": "#595959", "size": 4, "thickness": 1, "orient": "horizontal"},
         "encoding": {"x": {"field": "q", "type": "nominal"}, "xOffset": {"field": "s", "type": "nominal", "sort": ["Total Cholesterol", "Triglyceride", "HDL-Cholesterol", "LDL-Cholesterol"]}, "y": {"field": "hi", "type": "quantitative"}}},
        {"data": {"name": "quarters"}, "transform": [{"filter": "datum.q === 'Q4'"}], "mark": {"type": "rect", "fill": "#ffffff", "stroke": "#404040", "strokeWidth": 1},
         "encoding": {"x": {"field": "q", "type": "nominal", "bandPosition": -0.057}, "x2": {"field": "q", "bandPosition": 1.146}, "y": {"datum": 203.4}, "y2": {"datum": 332.6}}},
        {"data": {"name": "quarters"}, "transform": [{"filter": "datum.q === 'Q4'"}], "mark": {"type": "text", "text": ["TC p= 0.009", "TRI p<0.0001", "HDL p=0.0116", "LDL=0.844"], "fontSize": 7.5, "lineHeight": 12.8, "color": "#262626", "align": "center", "baseline": "middle"},
         "encoding": {"x": {"field": "q", "type": "nominal", "bandPosition": 0.54}, "y": {"datum": 305.1}}}
      ]
    },
    {
      "width": 294, "height": 167,
      "data": {"name": "systolic"},
      "title": {"text": "(h) Systolic", "dx": -19, "offset": 29},
      "layer": [
        {"mark": {"type": "bar", "color": "#4472C4"},
         "encoding": {
           "x": {"field": "q", "type": "nominal", "scale": {"range": [20, 294], "paddingInner": 0.679, "paddingOuter": 0.3395},
                 "axis": {"title": "(mm Hg)", "titleX": 12, "titleY": 10, "titleFontSize": 6.5, "labelPadding": 8, "labelFontSize": 9}},
           "y": {"field": "v", "type": "quantitative", "scale": {"domain": [125, 130], "range": [167, 29], "nice": false, "zero": false},
                 "axis": {"values": [125, 125.5, 126, 126.5, 127, 127.5, 128, 128.5, 129, 129.5, 130], "tickCount": 20, "labelOverlap": false, "labelPadding": -11, "format": ".1~f"}},
           "y2": {"datum": 125}
         }},
        {"mark": {"type": "rule", "color": "#595959"},
         "encoding": {"x": {"field": "q", "type": "nominal"}, "y": {"field": "lo", "type": "quantitative"}, "y2": {"field": "hi"}}},
        {"mark": {"type": "tick", "color": "#595959", "size": 4, "thickness": 1, "orient": "horizontal"},
         "encoding": {"x": {"field": "q", "type": "nominal"}, "y": {"field": "lo", "type": "quantitative"}}},
        {"mark": {"type": "tick", "color": "#595959", "size": 4, "thickness": 1, "orient": "horizontal"},
         "encoding": {"x": {"field": "q", "type": "nominal"}, "y": {"field": "hi", "type": "quantitative"}}},
        {"data": {"name": "quarters"}, "transform": [{"filter": "datum.q === 'Q1' || datum.q === 'Q4'"}], "mark": {"type": "rule", "color": "#404040"},
         "encoding": {"x": {"field": "q", "type": "nominal"}, "y": {"datum": 129.75}, "y2": {"datum": 130.18}}},
        {"data": {"name": "quarters"}, "transform": [{"filter": "datum.q === 'Q1'"}], "mark": {"type": "rule", "color": "#404040"},
         "encoding": {"x": {"field": "q", "type": "nominal", "bandPosition": 0.5}, "x2": {"field": "q", "bandPosition": 4.35}, "y": {"datum": 130.18}}},
        {"data": {"name": "quarters"}, "transform": [{"filter": "datum.q === 'Q4'"}], "mark": {"type": "rule", "color": "#404040"},
         "encoding": {"x": {"field": "q", "type": "nominal", "bandPosition": -3.12}, "x2": {"field": "q", "bandPosition": 0.5}, "y": {"datum": 130.18}}},
        {"data": {"name": "quarters"}, "transform": [{"filter": "datum.q === 'Q1'"}], "mark": {"type": "text", "text": "p<0.0001", "fontSize": 9.5, "color": "#404040", "align": "center", "baseline": "middle"},
         "encoding": {"x": {"field": "q", "type": "nominal", "bandPosition": 5.31}, "y": {"datum": 130.15}}}
      ]
    },
    {
      "width": 299, "height": 144,
      "data": {"name": "diastolic"},
      "title": {"text": "(i) Diastolic", "dx": -27.5, "offset": 10},
      "layer": [
        {"mark": {"type": "bar", "color": "#4472C4"},
         "encoding": {
           "x": {"field": "q", "type": "nominal", "scale": {"range": [3.5, 298.5], "paddingInner": 0.688, "paddingOuter": 0.344},
                 "axis": {"title": "(mm Hg)", "titleX": -15, "titleY": 12, "titleFontSize": 8, "labelPadding": 7, "labelFontSize": 9, "domain": false}},
           "y": {"field": "v", "type": "quantitative", "scale": {"domain": [69.5, 73], "range": [144, 18], "nice": false, "zero": false},
                 "axis": {"values": [69.5, 70, 70.5, 71, 71.5, 72, 72.5, 73], "tickCount": 20, "labelOverlap": false, "labelPadding": 5, "format": ".1~f"}},
           "y2": {"datum": 69.5}
         }},
        {"mark": {"type": "rule", "color": "#595959"},
         "encoding": {"x": {"field": "q", "type": "nominal"}, "y": {"field": "lo", "type": "quantitative"}, "y2": {"field": "hi"}}},
        {"mark": {"type": "tick", "color": "#595959", "size": 4, "thickness": 1, "orient": "horizontal"},
         "encoding": {"x": {"field": "q", "type": "nominal"}, "y": {"field": "lo", "type": "quantitative"}}},
        {"mark": {"type": "tick", "color": "#595959", "size": 4, "thickness": 1, "orient": "horizontal"},
         "encoding": {"x": {"field": "q", "type": "nominal"}, "y": {"field": "hi", "type": "quantitative"}}},
        {"data": {"name": "quarters"}, "transform": [{"filter": "datum.q === 'Q1'"}], "mark": {"type": "rule", "color": "#d9d9d9"},
         "encoding": {"x": {"field": "q", "type": "nominal", "bandPosition": -0.04}, "x2": {"field": "q", "bandPosition": 11.72}, "y": {"datum": 69.5}}},
        {"data": {"name": "quarters"}, "transform": [{"filter": "datum.q === 'Q1' || datum.q === 'Q4'"}], "mark": {"type": "rule", "color": "#404040"},
         "encoding": {"x": {"field": "q", "type": "nominal"}, "y": {"datum": 72.58}, "y2": {"datum": 72.91}}},
        {"data": {"name": "quarters"}, "transform": [{"filter": "datum.q === 'Q1'"}], "mark": {"type": "rule", "color": "#404040"},
         "encoding": {"x": {"field": "q", "type": "nominal", "bandPosition": 0.5}, "x2": {"field": "q", "bandPosition": 4.31}, "y": {"datum": 72.91}}},
        {"data": {"name": "quarters"}, "transform": [{"filter": "datum.q === 'Q4'"}], "mark": {"type": "rule", "color": "#404040"},
         "encoding": {"x": {"field": "q", "type": "nominal", "bandPosition": -3.57}, "x2": {"field": "q", "bandPosition": 0.5}, "y": {"datum": 72.91}}},
        {"data": {"name": "quarters"}, "transform": [{"filter": "datum.q === 'Q1'"}], "mark": {"type": "text", "text": "p<0.0001", "fontSize": 9.5, "color": "#404040", "align": "center", "baseline": "middle"},
         "encoding": {"x": {"field": "q", "type": "nominal", "bandPosition": 5.22}, "y": {"datum": 72.89}}}
      ]
    }
  ]
}
